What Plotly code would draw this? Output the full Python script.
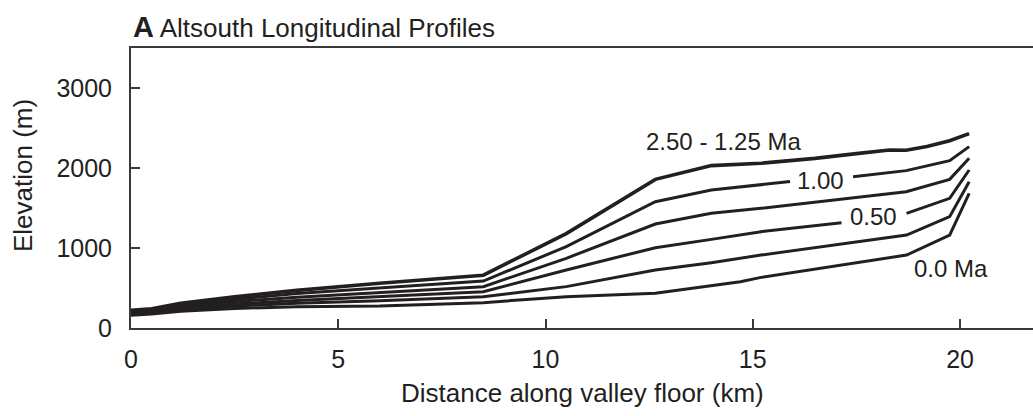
import plotly.graph_objects as go

# ---- data (distance km, elevation m) ----
x_125 = [0, 0.5, 1.2, 2.5, 4, 6, 8.5, 10.5, 12.65, 14.0, 15.2, 16.5, 17.5, 18.0, 18.3, 18.7, 19.2, 19.75, 20.22]
y_125 = [220, 240, 310, 390, 470, 560, 660, 1180, 1858, 2030, 2060, 2120, 2180, 2210, 2225, 2222, 2270, 2340, 2430]

x_100 = [0, 0.5, 1.2, 2.5, 4, 6, 8.5, 10.5, 12.65, 14.0, 15.2, 15.9, None, 17.42, 18.7, 19.75, 20.22]
y_100 = [205, 225, 285, 360, 430, 500, 587, 1017, 1579, 1725, 1790, 1830, None, 1892, 1967, 2092, 2267]

x_075 = [0, 0.5, 1.2, 2.5, 4, 6, 8.5, 10.5, 12.65, 14.0, 15.2, 18.7, 19.75, 20.22]
y_075 = [195, 210, 265, 330, 385, 445, 517, 871, 1300, 1433, 1496, 1704, 1858, 2121]

x_050 = [0, 0.5, 1.2, 2.5, 4, 6, 8.5, 10.5, 12.65, 14.0, 15.2, 17.14, None, 18.71, 19.75, 20.22]
y_050 = [185, 200, 245, 300, 345, 390, 454, 725, 1004, 1108, 1204, 1317, None, 1433, 1621, 1975]

x_025 = [0, 0.5, 1.2, 2.5, 4, 6, 8.5, 10.5, 12.65, 14.0, 15.2, 18.71, 19.75, 20.22]
y_025 = [175, 190, 228, 275, 310, 340, 392, 517, 725, 817, 912, 1162, 1392, 1829]

x_000 = [0, 0.5, 1.2, 2.5, 4, 6, 8.5, 10.5, 12.65, 14.0, 14.7, 15.2, 17.46, 18.71, 19.75, 20.22]
y_000 = [160, 175, 210, 245, 265, 275, 317, 392, 433, 525, 579, 633, 808, 912, 1162, 1683]

series = [
    ("2.50 - 1.25 Ma", x_125, y_125, 3.6),
    ("1.00 Ma", x_100, y_100, 3.0),
    ("0.75 Ma", x_075, y_075, 3.0),
    ("0.50 Ma", x_050, y_050, 3.0),
    ("0.25 Ma", x_025, y_025, 3.0),
    ("0.0 Ma", x_000, y_000, 3.0),
]

# line labels: text, x (km), y (m)
label_text = ["2.50 - 1.25 Ma", "1.00", "0.50", "0.0 Ma"]
label_x = [14.3, 16.64, 17.91, 19.78]
label_y = [2337, 1850, 1392, 746]

x_ticks = [0, 5, 10, 15, 20]
y_ticks = [0, 1000, 2000, 3000]

INK = "#231f20"
FONT = "Liberation Sans, Arial, Helvetica, sans-serif"

fig = go.Figure()
for name, xs, ys, w in series:
    fig.add_trace(go.Scatter(x=xs, y=ys, mode="lines", name=name,
                             line=dict(color=INK, width=w), connectgaps=False,
                             showlegend=False))

for t, xx, yy in zip(label_text, label_x, label_y):
    fig.add_annotation(x=xx, y=yy, text=t, showarrow=False,
                       font=dict(family=FONT, size=24, color=INK))

fig.add_annotation(xref="paper", yref="paper", x=0, y=1, xanchor="left", yanchor="bottom",
                   xshift=0, yshift=3, showarrow=False,
                   text="<span style='font-size:29px'><b>A</b></span> Altsouth Longitudinal Profiles",
                   font=dict(family=FONT, size=26, color=INK))

fig.add_annotation(xref="paper", yref="paper", x=0.5, y=0, yanchor="middle",
                   yshift=-65, showarrow=False,
                   text="Distance along valley floor (km)",
                   font=dict(family=FONT, size=26, color=INK))

fig.add_annotation(xref="paper", yref="paper", x=0, y=0.5, xanchor="center",
                   xshift=-108, yshift=12, textangle=-90, showarrow=False,
                   text="Elevation (m)",
                   font=dict(family=FONT, size=26, color=INK))

fig.update_layout(
    width=1033, height=416,
    margin=dict(l=131, r=0, t=48, b=88),
    paper_bgcolor="white", plot_bgcolor="white",
    font=dict(family=FONT, size=25, color=INK),
    xaxis=dict(range=[0, 21.76], tickvals=x_ticks, ticks="inside", ticklen=9,
               tickwidth=1.5, tickcolor="#3a3a3a", showline=True, linecolor="#3a3a3a",
               linewidth=2, mirror=True, showgrid=False, zeroline=False,
               ticklabelstandoff=8, tickfont=dict(size=25)),
    yaxis=dict(range=[0, 3500], tickvals=y_ticks, ticks="inside", ticklen=9,
               tickwidth=1.5, tickcolor="#3a3a3a", showline=True, linecolor="#3a3a3a",
               linewidth=2, showgrid=False, zeroline=False, ticklabelstandoff=12,
               tickfont=dict(size=25)),
)

fig.write_html("out.html")
